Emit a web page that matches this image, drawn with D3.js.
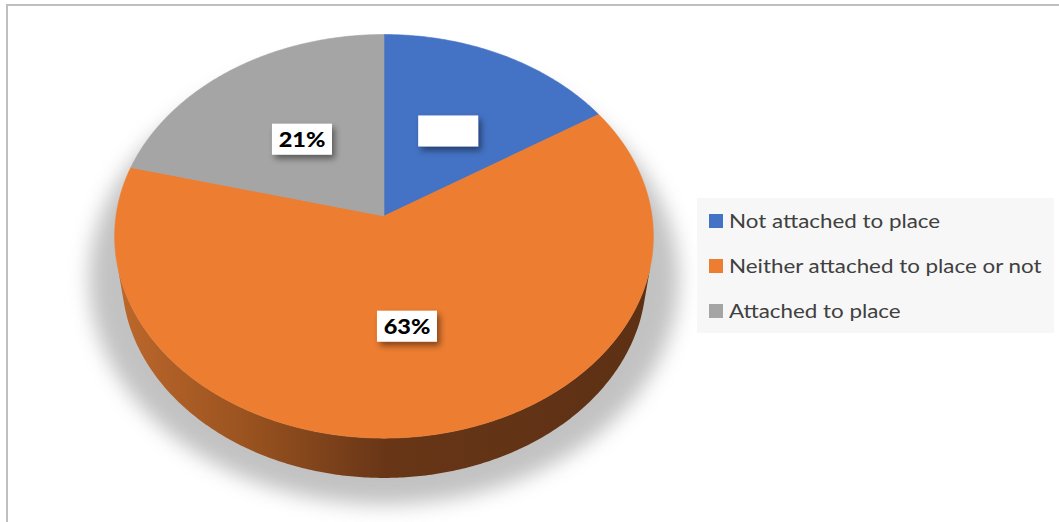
<!DOCTYPE html>
<html>
<head>
    <meta charset="utf-8">
    <script src="https://d3js.org/d3.v7.min.js"></script>
    <style>
        body, html {
            margin: 0;
            background: #ffffff;
            overflow: hidden;
        }
        svg { display: block; }
    </style>
</head>
<body>
<div id="chart"></div>
<script>
    // data
    const categories = ["Not attached to place", "Neither attached to place or not", "Attached to place"];
    const values = [16, 63, 21];
    const valueLabels = ["", "63%", "21%"]; // the blue slice shows an empty label box
    const colors = ["#4472C4", "#ED7D31", "#A5A5A5"];

    const width = 1059, height = 522;
    const cx = 384, cy = 216;           // pie apex on screen
    const dist = 6.62,                  // camera distance, in pie radii
          tilt = 48.2 * Math.PI / 180,  // elevation of the camera
          focal = 1774,
          depthH = 0.24;                // side wall height, in pie radii
    const sinT = Math.sin(tilt), cosT = Math.cos(tilt);

    const svg = d3.select("#chart").append("svg")
        .attr("width", width)
        .attr("height", height);

    const defs = svg.append("defs");

    const wallGrad = defs.append("linearGradient")
        .attr("id", "wallGrad")
        .attr("gradientUnits", "userSpaceOnUse")
        .attr("x1", 115).attr("x2", 655).attr("y1", 0).attr("y2", 0);
    [["0%", "#bd682c"], ["25%", "#99521f"], ["50%", "#683617"], ["100%", "#5d3014"]]
        .forEach(s => wallGrad.append("stop").attr("offset", s[0]).attr("stop-color", s[1]));

    const blur = defs.append("filter").attr("id", "pieShadow")
        .attr("x", "-20%").attr("y", "-20%").attr("width", "140%").attr("height", "140%");
    blur.append("feGaussianBlur").attr("stdDeviation", 10);

    const boxShadow = defs.append("filter").attr("id", "boxShadow")
        .attr("x", "-30%").attr("y", "-40%").attr("width", "170%").attr("height", "190%");
    boxShadow.append("feDropShadow")
        .attr("dx", 3).attr("dy", 4).attr("stdDeviation", 3)
        .attr("flood-color", "#000").attr("flood-opacity", 0.45);

    // chart border (top and left edges show)
    svg.append("line").attr("x1", 6).attr("y1", 5).attr("x2", width).attr("y2", 5)
        .attr("stroke", "#bfbfbf").attr("stroke-width", 2);
    svg.append("line").attr("x1", 7).attr("y1", 4).attr("x2", 7).attr("y2", height)
        .attr("stroke", "#bfbfbf").attr("stroke-width", 2);

    // theta: clockwise from the back of the pie, r in radii, y up
    function project(theta, r, y) {
        const X = r * Math.sin(theta), Z = -r * Math.cos(theta);
        const depth = dist - y * sinT - Z * cosT;
        const up = y * cosT - Z * sinT;
        return [cx + focal * X / depth, cy - focal * up / depth];
    }

    function arcPoints(a0, a1, r, y) {
        const n = Math.max(2, Math.ceil(Math.abs(a1 - a0) / 0.01));
        return d3.range(n + 1).map(i => project(a0 + (a1 - a0) * i / n, r, y));
    }

    const pie = d3.pie().sort(null).value(d => d)(values);
    const line = d3.line();

    // soft shadow under the pie
    svg.append("path")
        .attr("d", line(arcPoints(0, 2 * Math.PI, 1.12, -depthH + 0.02)) + "Z")
        .attr("fill", "#9a9a9a")
        .attr("opacity", 0.6)
        .attr("filter", "url(#pieShadow)");

    // side walls, only the part that faces the viewer
    const limit = Math.acos(-1 / (dist * cosT));
    const visLo = limit, visHi = 2 * Math.PI - limit;
    pie.forEach((d, i) => {
        const lo = Math.max(d.startAngle, visLo), hi = Math.min(d.endAngle, visHi);
        if (hi <= lo) return;
        const pts = arcPoints(lo, hi, 1, 0).concat(arcPoints(hi, lo, 1, -depthH));
        svg.append("path")
            .attr("d", line(pts) + "Z")
            .attr("fill", i === 1 ? "url(#wallGrad)" : d3.color(colors[i]).darker(1.2));
    });

    // top faces
    pie.forEach((d, i) => {
        const pts = [project(0, 0, 0)].concat(arcPoints(d.startAngle, d.endAngle, 1, 0));
        svg.append("path")
            .attr("d", line(pts) + "Z")
            .attr("fill", colors[i])
            .attr("stroke", colors[i])
            .attr("stroke-width", 0.6);
    });

    // data labels in white boxes
    pie.forEach((d, i) => {
        const mid = (d.startAngle + d.endAngle) / 2;
        const p = project(mid, 0.52, 0);
        const g = svg.append("g").attr("transform", `translate(${p[0]},${p[1] + 2})`);
        g.append("rect")
            .attr("x", -30).attr("y", -15.5)
            .attr("width", 60).attr("height", 31)
            .attr("fill", "#ffffff")
            .attr("filter", "url(#boxShadow)");
        g.append("text")
            .attr("transform", "scale(1.12,1)")
            .attr("y", 7.5)
            .attr("text-anchor", "middle")
            .attr("font-family", "Lato, 'Liberation Sans', sans-serif")
            .attr("font-weight", 900)
            .attr("font-size", 21)
            .attr("fill", "#000000")
            .text(valueLabels[i]);
    });

    // legend
    const legend = svg.append("g");
    legend.append("rect")
        .attr("x", 697).attr("y", 198)
        .attr("width", 357).attr("height", 135)
        .attr("fill", "#f7f7f7");
    const rowY = d3.scalePoint().domain(categories).range([221, 311]);
    categories.forEach((c, i) => {
        legend.append("rect")
            .attr("x", 709).attr("y", rowY(c) - 7)
            .attr("width", 14).attr("height", 14)
            .attr("fill", colors[i]);
        legend.append("text")
            .attr("transform", `translate(729,${rowY(c) + 6.5}) scale(1.21,1)`)
            .attr("font-family", "Lato, 'Liberation Sans', sans-serif")
            .attr("font-size", 18.5)
            .attr("fill", "#404040")
            .text(c);
    });
</script>
</body>
</html>
